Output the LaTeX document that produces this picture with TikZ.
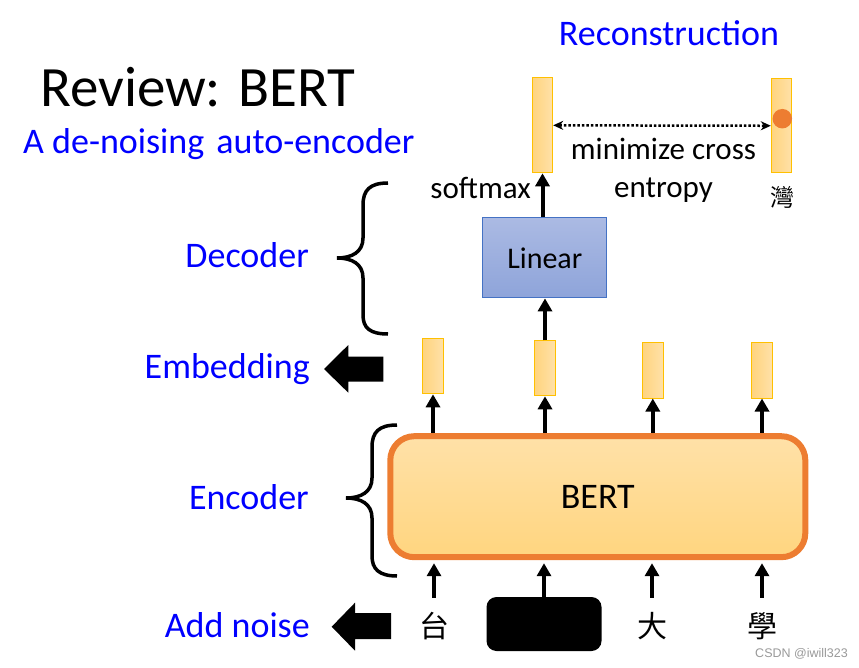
\documentclass[tikz,border=0pt]{standalone}
\usepackage{fontspec}
\setmainfont{Carlito}
\newfontfamily\cjk{Noto Sans CJK TC}
\newfontfamily\wmfont{Liberation Sans}
\usetikzlibrary{arrows.meta}

\definecolor{vecedge}{HTML}{FFC000}
\definecolor{vecdark}{HTML}{FFD47F}
\definecolor{veclight}{HTML}{FFE1A8}
\definecolor{bertedge}{HTML}{ED7D31}
\definecolor{berttop}{HTML}{FFE1A8}
\definecolor{bertbot}{HTML}{FFD57F}
\definecolor{lintop}{HTML}{ABBAE3}
\definecolor{linbot}{HTML}{8EA4DA}
\definecolor{linedge}{HTML}{4472C4}
\definecolor{marker}{HTML}{ED7D31}

\tikzset{
  lbl/.style={text=blue, font=\fontsize{36}{40}\selectfont, inner sep=0pt},
  txt/.style={font=\fontsize{31}{38}\selectfont, inner sep=0pt},
  vec/.style={draw=vecedge, line width=1pt, left color=vecdark, right color=veclight, minimum width=20.4pt, inner sep=0pt},
  arr/.style={draw, line width=4pt, -{Triangle[width=14pt,length=13pt]}},
  tok/.style={font=\cjk\fontsize{30}{30}\selectfont, minimum height=56pt, inner sep=0pt},
}

\begin{document}
\begin{tikzpicture}[x=1pt,y=-1pt]
\useasboundingbox (0,0) rectangle (859,668);

\node[anchor=base west, inner sep=0pt, font=\fontsize{57}{60}\selectfont] (title) at (40,107) {Review: BERT};
\node[lbl, anchor=base west] (sub) at (23,154) {A de-noising\hspace{4pt} auto-encoder};
\node[lbl, anchor=base] (rec) at (669,46) {Reconstruction};

\node[lbl, anchor=base east] (dec) at (309,268) {Decoder};
\node[lbl, anchor=base east] (emb) at (310,378) {Embedding};
\node[lbl, anchor=base east] (enc) at (309,509) {Encoder};
\node[lbl, anchor=base east] (noise) at (310,637) {Add noise};

\node[vec, minimum height=95pt] (out1) at (542.5,125.3) {};
\node[vec, minimum height=94pt] (out2) at (781.5,125.8) {};
\node[circle, fill=marker, minimum size=19.5pt, inner sep=0pt] (dot) at (782.3,118.7) {};
\draw[dotted, line width=2.5pt, {Stealth[length=10pt,width=9pt]}-{Stealth[length=10pt,width=9pt]}] (out1) -- (out2);
\node[txt, anchor=base] (xent1) at (663.5,160) {minimize cross};
\node[txt, anchor=base] (xent2) at (663.5,198) {entropy};
\node[font=\cjk\fontsize{24}{24}\selectfont, inner sep=0pt] (wan) at (782.5,197.5) {灣};
\node[txt, anchor=base east] (smax) at (531,199) {softmax};

\node[draw=linedge, line width=1.2pt, top color=lintop, bottom color=linbot, minimum width=124pt, minimum height=80pt, font=\fontsize{30}{36}\selectfont] (lin) at (544.8,257.8) {Linear};
\draw[arr] (out1.south |- lin.north) -- (out1.south);

\node[vec, minimum height=55pt] (e1) at (433,366.3) {};
\node[vec, minimum height=55pt] (e2) at (545,368.3) {};
\node[vec, minimum height=56pt] (e3) at (652.8,370) {};
\node[vec, minimum height=56pt] (e4) at (762,370) {};
\draw[arr] (e2.north) -- (e2.north |- lin.south);

\node[draw=bertedge, line width=6pt, rounded corners=24pt, top color=berttop, bottom color=bertbot, minimum width=415pt, minimum height=121pt, font=\fontsize{36}{40}\selectfont] (bert) at (597.8,496.7) {BERT};
\draw[arr] (bert.north -| e1) -- (e1.south);
\draw[arr] (bert.north -| e2) -- (e2.south);
\draw[arr] (bert.north -| e3) -- (e3.south);
\draw[arr] (bert.north -| e4) -- (e4.south);

\node[tok] (t1) at (434,626) {台};
\node[fill=black, rounded corners=10pt, minimum width=115pt, minimum height=54pt, inner sep=0pt] (mask) at (544,624) {};
\node[tok] (t3) at (652,626) {大};
\node[tok] (t4) at (762,626) {學};
\draw[arr, shorten >=3pt] (t1.north) -- (t1.north |- bert.south);
\draw[arr, shorten >=3pt] (mask.north) -- (mask.north |- bert.south);
\draw[arr, shorten >=3pt] (t3.north) -- (t3.north |- bert.south);
\draw[arr, shorten >=3pt] (t4.north) -- (t4.north |- bert.south);

% braces
\draw[line width=3.5pt] (388,183) .. controls (370,183) and (363,190) .. (363,205) -- (363,238)
  .. controls (363,252) and (352,258) .. (337,258) .. controls (352,258) and (363,264) .. (363,278)
  -- (363,315) .. controls (363,328) and (370,334) .. (388,334);
\draw[line width=3.5pt] (397,425) .. controls (379,425) and (372,432) .. (372,447) -- (372,478)
  .. controls (372,492) and (361,498) .. (346,498) .. controls (361,498) and (372,504) .. (372,518)
  -- (372,556) .. controls (372,569) and (379,576) .. (397,576);

% fat arrows
\fill (324,369) -- (348.3,345) -- (348.3,356.7) -- (383.3,356.7) -- (383.3,381.7) -- (348.3,381.7) -- (348.3,392.7) -- cycle;
\fill (331.7,626.7) -- (355,602.7) -- (355,613) -- (391,613) -- (391,639) -- (355,639) -- (355,650.7) -- cycle;

\node[font=\wmfont\fontsize{12.5}{13}\selectfont, text=gray!80, anchor=base east, inner sep=0pt] (wm) at (848,657) {CSDN @iwill323};
\end{tikzpicture}
\end{document}
